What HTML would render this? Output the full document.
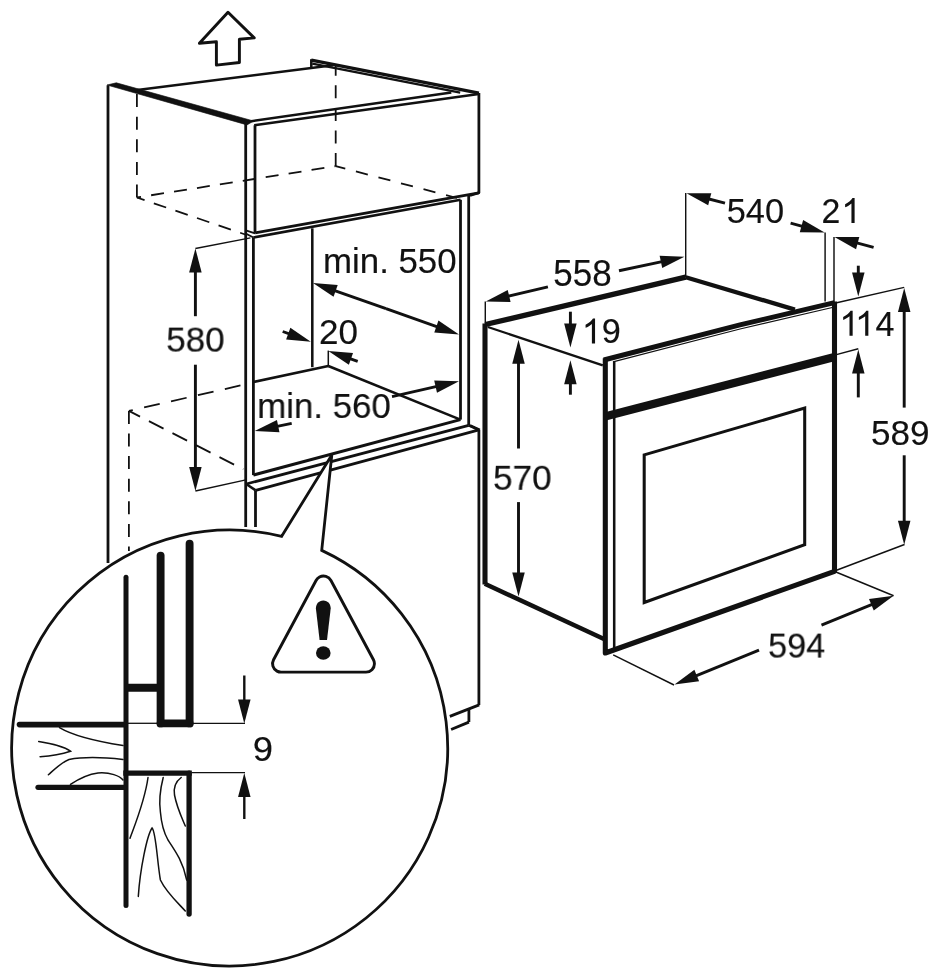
<!DOCTYPE html>
<html><head><meta charset="utf-8"><title>Oven installation dimensions</title>
<style>
html,body{margin:0;padding:0;background:#fff;}
body{width:940px;height:976px;overflow:hidden;font-family:"Liberation Sans",sans-serif;}
svg{display:block;will-change:transform}
svg text{font-family:"Liberation Sans",sans-serif;fill:#111;stroke:#111;stroke-width:0.15px}
</style></head><body>
<svg width="940" height="976" viewBox="0 0 940 976" fill="none" stroke="#111" stroke-linecap="butt" stroke-linejoin="miter">
<rect x="0" y="0" width="940" height="976" fill="#fff" stroke="none"/>
<g id="main">
<polygon points="228.0,12.2 254.2,37.9 239.4,39.2 239.4,62.5 216.4,65.1 216.4,41.8 199.4,43.3" stroke-width="2.92" fill="none" stroke-linejoin="round"/>
<line x1="108" y1="85.3" x2="108" y2="563" stroke-width="2.79" />
<polygon points="107,85.0 116.3,82.8 253.6,121.0 247,124.9" stroke-width="0.64" fill="#111" />
<line x1="137.3" y1="90.1" x2="333" y2="65.3" stroke-width="2.54" />
<line x1="311.3" y1="60.2" x2="478.9" y2="93.2" stroke-width="3.3" />
<line x1="312.3" y1="63.6" x2="460.2" y2="92.6" stroke-width="2.29" />
<line x1="311.3" y1="59.2" x2="311.3" y2="68.4" stroke-width="2.54" />
<line x1="478.9" y1="93.0" x2="478.9" y2="193.0" stroke-width="2.79" />
<line x1="251.3" y1="121.2" x2="451.3" y2="92.5" stroke-width="2.54" />
<line x1="254.2" y1="125.3" x2="478.8" y2="94.0" stroke-width="2.54" />
<line x1="245.7" y1="124" x2="245.7" y2="527" stroke-width="2.79" />
<line x1="255.0" y1="125.3" x2="255.0" y2="232.8" stroke-width="2.79" />
<line x1="253.4" y1="237.5" x2="253.4" y2="475.1" stroke-width="2.79" />
<line x1="255.5" y1="490.4" x2="255.5" y2="527" stroke-width="2.79" />
<line x1="255.1" y1="232.8" x2="478.9" y2="192.9" stroke-width="2.79" />
<line x1="253.4" y1="237.5" x2="460.6" y2="199.8" stroke-width="2.54" />
<line x1="246.6" y1="230.6" x2="255.1" y2="233.4" stroke-width="1.91" />
<line x1="246.6" y1="234.0" x2="253.4" y2="237.5" stroke-width="1.91" />
<line x1="460.5" y1="199.8" x2="460.5" y2="419.6" stroke-width="2.79" />
<line x1="468.7" y1="195.0" x2="468.7" y2="425.3" stroke-width="2.79" />
<line x1="312.3" y1="228.3" x2="312.3" y2="367.2" stroke-width="2.54" />
<line x1="253.4" y1="382.0" x2="328.3" y2="366.0" stroke-width="2.79" />
<line x1="328.3" y1="366.0" x2="460.4" y2="419.6" stroke-width="2.54" />
<line x1="328.3" y1="350.6" x2="328.3" y2="366.0" stroke-width="1.52" />
<line x1="253.4" y1="475.1" x2="460.4" y2="419.6" stroke-width="3.05" />
<line x1="246.2" y1="484.0" x2="468.7" y2="425.3" stroke-width="2.79" />
<line x1="255.7" y1="490.4" x2="478.9" y2="429.8" stroke-width="2.79" />
<line x1="246.2" y1="484.0" x2="255.7" y2="490.4" stroke-width="2.54" />
<line x1="468.7" y1="425.3" x2="478.9" y2="429.8" stroke-width="2.54" />
<line x1="478.9" y1="429.8" x2="478.9" y2="704.9" stroke-width="2.79" />
<line x1="479.2" y1="704.9" x2="449.8" y2="716.4" stroke-width="2.79" />
<line x1="468.9" y1="708.7" x2="468.9" y2="722.1" stroke-width="2.79" />
<line x1="468.9" y1="722.1" x2="451.1" y2="729.5" stroke-width="2.79" />
<line x1="136.9" y1="197.5" x2="136.9" y2="92" stroke-width="1.78" stroke-dasharray="13 9.6" stroke-dashoffset="0"/>
<line x1="136.9" y1="197.5" x2="335.7" y2="166.1" stroke-width="1.78" stroke-dasharray="13 10.2" stroke-dashoffset="8.8"/>
<line x1="136.9" y1="197.5" x2="245.2" y2="234.5" stroke-width="1.78" stroke-dasharray="13 9.8" stroke-dashoffset="4.9"/>
<line x1="335.7" y1="166.1" x2="335.7" y2="65" stroke-width="1.78" stroke-dasharray="13 9.6" stroke-dashoffset="0"/>
<line x1="335.7" y1="166.1" x2="457" y2="198" stroke-width="1.78" stroke-dasharray="12.3 11" stroke-dashoffset="2.4"/>
<line x1="128.9" y1="410.9" x2="128.9" y2="551" stroke-width="1.78" stroke-dasharray="13 9.6" stroke-dashoffset="0"/>
<line x1="128.9" y1="410.9" x2="244.3" y2="384.6" stroke-width="1.78" stroke-dasharray="16 11.6" stroke-dashoffset="12"/>
<line x1="128.9" y1="410.9" x2="243.3" y2="469.3" stroke-width="1.78" stroke-dasharray="16.4 10" stroke-dashoffset="3.9"/>
<line x1="195.4" y1="248.5" x2="250.4" y2="237.9" stroke-width="1.46" />
<line x1="195.4" y1="491.0" x2="247" y2="479.6" stroke-width="1.46" />
<polygon points="195.40,248.50 201.65,272.50 189.15,272.50" fill="#111" stroke="none"/>
<line x1="195.4" y1="316.2" x2="195.4" y2="267.7" stroke-width="2.92" />
<polygon points="195.40,491.00 189.15,467.00 201.65,467.00" fill="#111" stroke="none"/>
<line x1="195.4" y1="364.7" x2="195.4" y2="471.8" stroke-width="2.92" />
<polygon points="313.00,283.00 337.71,285.07 333.56,296.87" fill="#111" stroke="none"/>
<line x1="386" y1="308.7" x2="331.11" y2="289.38" stroke-width="2.92" />
<polygon points="459.00,334.50 434.29,332.40 438.45,320.61" fill="#111" stroke="none"/>
<line x1="386" y1="308.7" x2="440.9" y2="328.1" stroke-width="2.92" />
<polygon points="310.80,341.70 286.11,339.39 290.37,327.64" fill="#111" stroke="none"/>
<line x1="282.7" y1="331.5" x2="292.75" y2="335.15" stroke-width="2.92" />
<polygon points="328.30,351.00 353.02,353.04 348.88,364.83" fill="#111" stroke="none"/>
<line x1="357.7" y1="361.3" x2="346.42" y2="357.35" stroke-width="2.92" />
<polygon points="459.00,381.30 436.99,392.74 434.21,380.55" fill="#111" stroke="none"/>
<line x1="392" y1="396.6" x2="440.28" y2="385.57" stroke-width="2.92" />
<polygon points="254.70,431.00 276.95,420.05 279.47,432.29" fill="#111" stroke="none"/>
<line x1="291.7" y1="423.4" x2="273.51" y2="427.14" stroke-width="2.92" />
<line x1="485.3" y1="301.5" x2="485.3" y2="324.5" stroke-width="1.46" />
<line x1="485.0" y1="323.5" x2="485.0" y2="584.5" stroke-width="5.08" />
<line x1="485.3" y1="324.5" x2="685.7" y2="277.2" stroke-width="5.33" />
<line x1="685.7" y1="277.2" x2="794.9" y2="309.6" stroke-width="4.32" />
<line x1="685.7" y1="193" x2="685.7" y2="277.2" stroke-width="1.46" />
<line x1="487.9" y1="327" x2="602.8" y2="365.3" stroke-width="2.29" />
<polyline points="603.8,360 740,324.9 834.5,302.7" stroke-width="4.95" fill="none" stroke-linejoin="round"/>
<polyline points="613,361.8 740,329.0 832.3,307.5" stroke-width="1.27" fill="none" />
<line x1="614.2" y1="361.4" x2="614.2" y2="650" stroke-width="2.54" />
<polyline points="605.3,358.2 605.3,653 834.5,571.3 834.5,301.6" stroke-width="5.08" fill="none" stroke-linejoin="round"/>
<line x1="484.8" y1="583.8" x2="604.5" y2="639.3" stroke-width="4.57" />
<line x1="604" y1="416.8" x2="834.5" y2="357" stroke-width="8.13" />
<polygon points="644.2,454.9 804.7,408.1 804.7,544.7 644.2,602.5" stroke-width="3.05" fill="none" />
<polygon points="485.80,301.50 507.73,289.92 510.59,302.09" fill="#111" stroke="none"/>
<line x1="547.9" y1="286.9" x2="504.49" y2="297.11" stroke-width="2.92" />
<polygon points="684.40,256.80 662.24,267.94 659.62,255.71" fill="#111" stroke="none"/>
<line x1="619.0" y1="270.8" x2="665.63" y2="260.82" stroke-width="2.92" />
<polygon points="686.50,193.20 711.30,193.18 708.16,205.28" fill="#111" stroke="none"/>
<line x1="725" y1="203.2" x2="705.08" y2="198.03" stroke-width="2.92" />
<polygon points="824.60,232.50 799.80,232.13 803.13,220.08" fill="#111" stroke="none"/>
<line x1="790.6" y1="223.1" x2="806.09" y2="227.38" stroke-width="2.92" />
<line x1="825.1" y1="232.5" x2="825.1" y2="301.5" stroke-width="1.46" />
<line x1="834.0" y1="236.9" x2="834.0" y2="302.8" stroke-width="1.46" />
<polygon points="834.50,236.90 859.30,237.09 856.06,249.16" fill="#111" stroke="none"/>
<line x1="873.6" y1="247.4" x2="853.04" y2="241.88" stroke-width="2.92" />
<polygon points="570.40,347.40 564.15,323.40 576.65,323.40" fill="#111" stroke="none"/>
<line x1="570.4" y1="311.7" x2="570.4" y2="328.2" stroke-width="2.92" />
<polygon points="570.40,360.20 576.65,384.20 564.15,384.20" fill="#111" stroke="none"/>
<line x1="570.4" y1="394.7" x2="570.4" y2="379.4" stroke-width="2.92" />
<line x1="834.5" y1="303.3" x2="904.2" y2="287.4" stroke-width="1.46" />
<line x1="834.5" y1="355.1" x2="858.3" y2="348.7" stroke-width="1.46" />
<polygon points="858.30,296.40 852.05,272.40 864.55,272.40" fill="#111" stroke="none"/>
<line x1="858.3" y1="265.7" x2="858.3" y2="277.2" stroke-width="2.92" />
<polygon points="858.30,349.50 864.55,373.50 852.05,373.50" fill="#111" stroke="none"/>
<line x1="858.3" y1="397.4" x2="858.3" y2="368.7" stroke-width="2.92" />
<polygon points="904.20,288.00 910.45,312.00 897.95,312.00" fill="#111" stroke="none"/>
<line x1="904.2" y1="407.6" x2="904.2" y2="307.2" stroke-width="2.92" />
<polygon points="904.20,544.70 897.95,520.70 910.45,520.70" fill="#111" stroke="none"/>
<line x1="904.2" y1="455.3" x2="904.2" y2="525.5" stroke-width="2.92" />
<line x1="834.5" y1="571" x2="904.5" y2="544.5" stroke-width="1.46" />
<polygon points="518.50,339.80 524.75,363.80 512.25,363.80" fill="#111" stroke="none"/>
<line x1="518.5" y1="448.5" x2="518.5" y2="359.0" stroke-width="2.92" />
<polygon points="518.50,596.60 512.25,572.60 524.75,572.60" fill="#111" stroke="none"/>
<line x1="518.5" y1="502.1" x2="518.5" y2="577.4" stroke-width="2.92" />
<line x1="613.2" y1="654.9" x2="674" y2="685" stroke-width="1.46" />
<line x1="834.7" y1="571.5" x2="893.6" y2="595.7" stroke-width="1.46" />
<polygon points="674.50,684.50 694.39,669.68 699.09,681.26" fill="#111" stroke="none"/>
<line x1="759" y1="650.2" x2="692.29" y2="677.28" stroke-width="2.92" />
<polygon points="893.60,595.70 873.74,610.55 869.02,598.97" fill="#111" stroke="none"/>
<line x1="821.5" y1="625.1" x2="875.82" y2="602.95" stroke-width="2.92" />
<line x1="470" y1="195.5" x2="479.7" y2="192.5" stroke-width="2.79" />
<line x1="470" y1="425.5" x2="479.7" y2="430" stroke-width="2.79" />
</g>
<g id="callout">
<path d="M281.68,536.29 L331.8,455.0 L321.72,550.38 A218,218 0 1 1 281.68,536.29 Z" fill="#fff" stroke-width="2.8" stroke-linejoin="miter"/>
<g stroke-linecap="round">
<line x1="126" y1="577.3" x2="126" y2="905.5" stroke-width="5.0" />
<line x1="160.6" y1="555.6" x2="160.6" y2="723.4" stroke-width="7.9" />
<line x1="189.6" y1="543.8" x2="189.6" y2="723.4" stroke-width="7.9" />
<line x1="160.6" y1="723.4" x2="189.6" y2="723.4" stroke-width="7.9" />
</g>
<line x1="126" y1="687.7" x2="160.6" y2="687.7" stroke-width="8.0" />
<g stroke-linecap="round">
<line x1="19.5" y1="724.6" x2="124" y2="724.6" stroke-width="5.6" />
<line x1="38" y1="787.3" x2="124" y2="787.3" stroke-width="5.2" />
</g>
<line x1="126" y1="773.1" x2="189.1" y2="773.1" stroke-width="5.4" stroke-linecap="square"/>
<line x1="189.1" y1="773.1" x2="189.1" y2="914" stroke-width="5.3" stroke-linecap="round"/>
<line x1="128" y1="723.3" x2="157" y2="723.3" stroke-width="1.3" />
<line x1="193" y1="723.3" x2="245" y2="723.3" stroke-width="1.3" />
<line x1="191.5" y1="772.7" x2="245" y2="772.7" stroke-width="1.3" />
<polygon points="244.30,723.60 238.05,699.60 250.55,699.60" fill="#111" stroke="none"/>
<line x1="244.3" y1="675.5" x2="244.3" y2="704.4" stroke-width="2.4" />
<polygon points="244.30,773.00 250.55,797.00 238.05,797.00" fill="#111" stroke="none"/>
<line x1="244.3" y1="819" x2="244.3" y2="792.2" stroke-width="2.4" />
<path d="M59.5,727.7 C75,737 100,742 123,745.6" stroke-width="1.5" fill="none" stroke-linecap="round"/>
<path d="M38.7,741.5 C55,744 66,748 70.5,751.2 C62,754 50,756 40.1,756.7" stroke-width="1.5" fill="none" stroke-linecap="round"/>
<path d="M48.4,774.7 C56,768 62,762 69,759.5 C85,756.5 105,757.5 123,759.5" stroke-width="1.5" fill="none" stroke-linecap="round"/>
<path d="M70.5,784.4 C80,778 90,774 98,773 C110,772 120,776 123,780" stroke-width="1.5" fill="none" stroke-linecap="round"/>
<path d="M148,777.5 C145,800 136,822 130,838.3" stroke-width="1.5" fill="none" stroke-linecap="round"/>
<path d="M163.2,777.5 C160,790 159,802 160.4,812 C161.5,825 164,833 168,840 C176,852 183,862 186.7,880" stroke-width="1.5" fill="none" stroke-linecap="round"/>
<path d="M181.2,777.5 C175,782 173.5,788 174.5,795 C177,808 182,818 185.3,826" stroke-width="1.5" fill="none" stroke-linecap="round"/>
<path d="M138.3,896.4 C140,870 147,835 152.1,828 C156,832 157,860 160.4,880 C166,892 178,903 185.3,911" stroke-width="1.5" fill="none" stroke-linecap="round"/>
</g>
<g id="warn">
<polygon points="323.5,584.5 281.0,663.7 366.0,663.7" fill="#111" stroke="#111" stroke-width="19.8" stroke-linejoin="round"/>
<polygon points="323.5,584.5 281.0,663.7 366.0,663.7" fill="#fff" stroke="#fff" stroke-width="14.0" stroke-linejoin="round"/>
<path d="M323.3,600.4 C328,600.4 330.7,604 330.7,608.5 L327.0,640 L319.6,640 L315.9,608.5 C315.9,604 318.6,600.4 323.3,600.4 Z" fill="#111" stroke="none"/>
<ellipse cx="323.3" cy="653" rx="7.3" ry="6.8" fill="#111" stroke="none"/>
</g>
<g id="labels" opacity="0.999">
<text transform="translate(166.24,351.6) scale(0.9729,1)" font-size="36">580</text>
<text transform="translate(322.98,273.0) scale(0.9683,1)" font-size="36">min. 550</text>
<text transform="translate(319.10,343.7) scale(0.9741,1)" font-size="36">20</text>
<text transform="translate(257.18,418.0) scale(0.9683,1)" font-size="36">min. 560</text>
<text transform="translate(553.24,286.3) scale(0.9737,1)" font-size="36">558</text>
<text transform="translate(601.73,343.3) scale(0.9515,1)" font-size="36">9</text>
<text transform="translate(726.67,223.0) scale(0.9555,1)" font-size="36">540</text>
<text transform="translate(821.56,223.0) scale(0.9394,1)" font-size="36">2</text>
<text transform="translate(875.59,335.7) scale(0.9479,1)" font-size="36">4</text>
<text transform="translate(493.04,489.8) scale(0.9764,1)" font-size="36">570</text>
<text transform="translate(870.94,445.3) scale(0.9744,1)" font-size="36">589</text>
<text transform="translate(768.07,657.6) scale(0.9530,1)" font-size="36">594</text>
<text transform="translate(252.83,760.6) scale(1.0121,1)" font-size="36">9</text>
<path transform="translate(581.65,343.5) scale(0.017578,-0.016980)" d="M763 0H583V1147Q518 1085 412.5 1023T223 930V1104Q373 1174.5 485.5 1275T644 1466H763V0Z" fill="#111" stroke="none"/>
<path transform="translate(841.2,223.0) scale(0.017578,-0.016980)" d="M763 0H583V1147Q518 1085 412.5 1023T223 930V1104Q373 1174.5 485.5 1275T644 1466H763V0Z" fill="#111" stroke="none"/>
<path transform="translate(839.25,335.7) scale(0.017578,-0.016980)" d="M763 0H583V1147Q518 1085 412.5 1023T223 930V1104Q373 1174.5 485.5 1275T644 1466H763V0Z" fill="#111" stroke="none"/>
<path transform="translate(854.95,335.7) scale(0.017578,-0.016980)" d="M763 0H583V1147Q518 1085 412.5 1023T223 930V1104Q373 1174.5 485.5 1275T644 1466H763V0Z" fill="#111" stroke="none"/>
</g>
</svg>
</body></html>
